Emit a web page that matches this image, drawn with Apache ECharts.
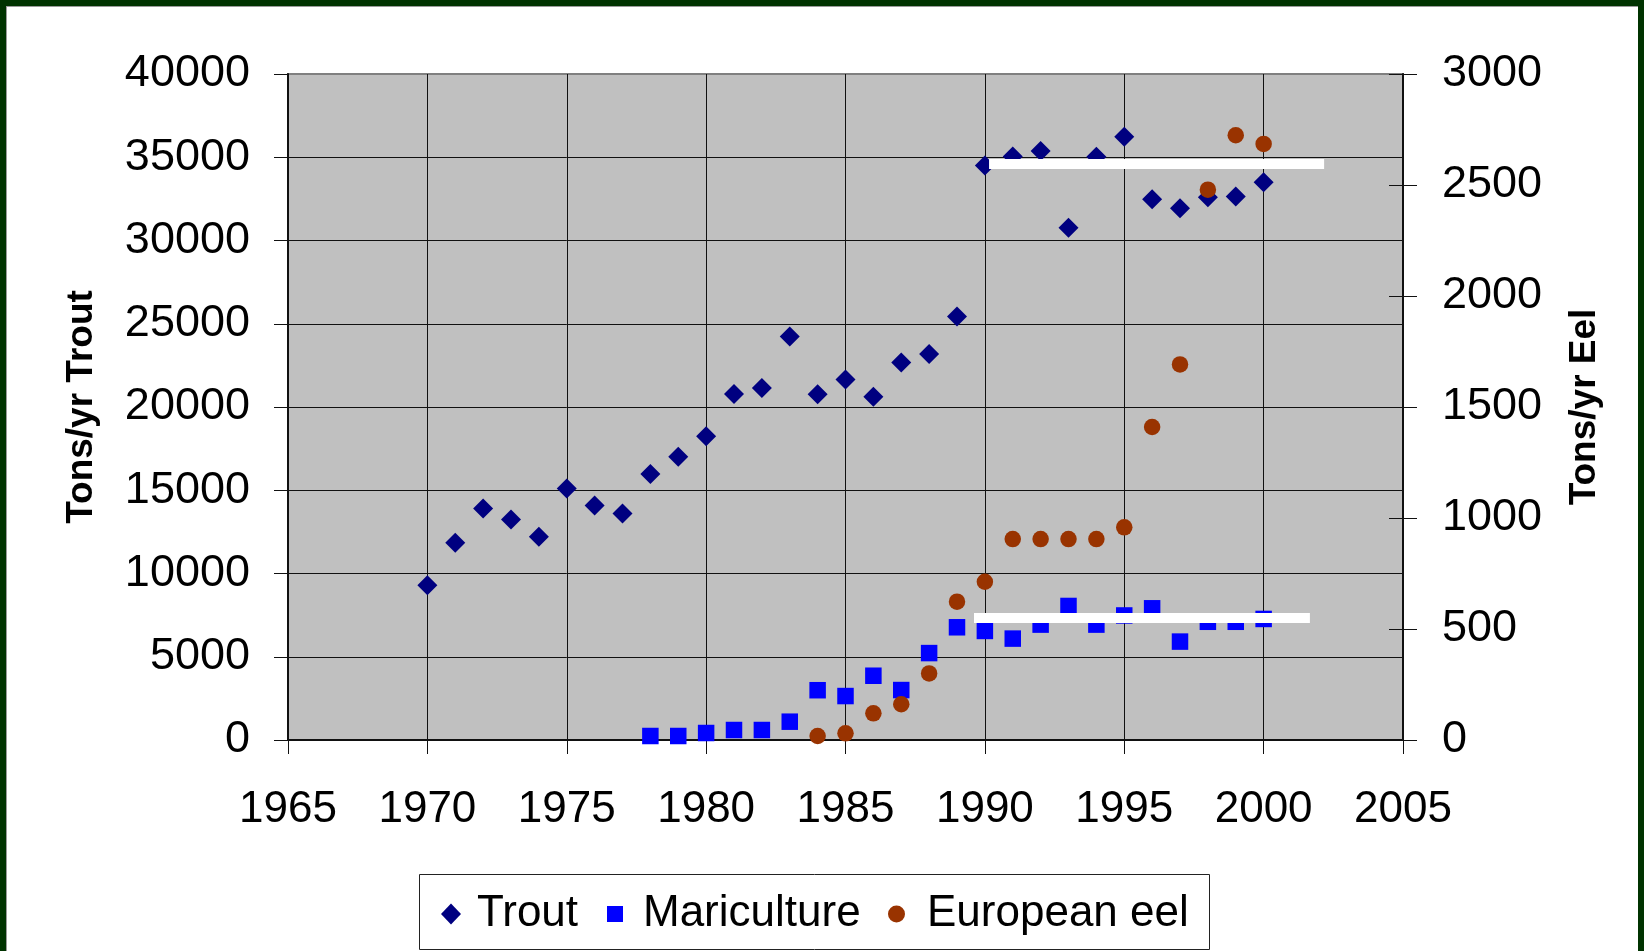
<!DOCTYPE html>
<html>
<head>
<meta charset="utf-8">
<script src="https://cdn.jsdelivr.net/npm/echarts@6/dist/echarts.min.js"></script>
<style>
  html, body { margin: 0; padding: 0; background: #ffffff; }
  #chart { position: absolute; left: 0; top: 0; width: 1644px; height: 951px; background: #ffffff; }
  #frame { position: absolute; left: 0; top: 0; width: 1644px; height: 951px; box-sizing: border-box;
           border-top: 6px solid #003300; border-left: 6px solid #003300; border-right: 6px solid #003300;
           box-shadow: inset 1px 1px 0 0 #9a9a9a; pointer-events: none; }
</style>
</head>
<body>
<div id="chart"></div>
<div id="frame"></div>
<script>
// ---------------- data ----------------
const troutYears = [1970,1971,1972,1973,1974,1975,1976,1977,1978,1979,1980,1981,1982,1983,1984,1985,1986,1987,1988,1989,1990,1991,1992,1993,1994,1995,1996,1997,1998,1999,2000];
const troutTons  = [9300,11850,13900,13250,12200,15100,14080,13600,15980,17010,18240,20780,21140,24230,20770,21650,20610,22680,23180,25430,34500,35050,35380,30760,35030,36230,32470,31930,32600,32650,33500];

const mariYears = [1978,1979,1980,1981,1982,1983,1984,1985,1986,1987,1988,1989,1990,1991,1992,1993,1994,1995,1996,1997,1998,1999,2000];
const mariTons  = [240,240,420,600,600,1100,2990,2640,3860,3000,5220,6770,6550,6090,6930,8050,6930,7480,7910,5910,7100,7100,7270];

const eelYears = [1984,1985,1986,1987,1988,1989,1990,1991,1992,1993,1994,1995,1996,1997,1998,1999,2000];
const eelTons  = [18,30,120,161,300,623,713,905,905,905,905,958,1410,1692,2479,2724,2685];

// white annotation bars (year range, left-axis level)
const topBarYears = [1990.15, 2002.17];
const topBarLevel = 34600;
const lowBarYears = [1989.61, 2001.66];
const lowBarLevel = 7330;

const xTicks = {min: 1965, max: 2005, interval: 5};
const yLeftTicks = {min: 0, max: 40000, interval: 5000};
const yRightTicks = {min: 0, max: 3000, interval: 500};

const seriesNames = ['Trout', 'Mariculture', 'European eel'];
const leftTitle = 'Tons/yr Trout';
const rightTitle = 'Tons/yr Eel';

// ---------------- chart ----------------
const FONT = '"Liberation Sans", Arial, sans-serif';
const pair = (xs, ys) => xs.map((x, i) => [x, ys[i]]);
const plain = v => String(v);

const chart = echarts.init(document.getElementById('chart'), null, {renderer: 'canvas'});

const legendText = (pad) => ({fontFamily: FONT, fontSize: 44, color: '#000', lineHeight: 50, padding: [0, 0, 0, pad]});

const option = {
  animation: false,
  backgroundColor: '#ffffff',
  grid: {
    left: 288, top: 74, width: 1115, height: 666,
    show: true, backgroundColor: '#C0C0C0', borderColor: '#808080', borderWidth: 2,
    containLabel: false
  },
  xAxis: {
    type: 'value',
    min: xTicks.min, max: xTicks.max, interval: xTicks.interval,
    axisLine: {show: true, onZero: false, lineStyle: {color: '#111', width: 2}},
    axisTick: {show: true, inside: false, length: 14, lineStyle: {color: '#111', width: 1}},
    axisLabel: {fontFamily: FONT, fontSize: 44, color: '#000', margin: 48, formatter: plain},
    splitLine: {show: true, lineStyle: {color: '#111', width: 1}}
  },
  yAxis: [
    {
      type: 'value', position: 'left',
      min: yLeftTicks.min, max: yLeftTicks.max, interval: yLeftTicks.interval,
      name: leftTitle, nameLocation: 'middle', nameRotate: 90, nameGap: 188,
      nameTextStyle: {fontFamily: FONT, fontSize: 37, fontWeight: 'bold', color: '#000'},
      axisLine: {show: true, lineStyle: {color: '#111', width: 2}},
      axisTick: {show: true, inside: false, length: 14, lineStyle: {color: '#111'}},
      axisLabel: {fontFamily: FONT, fontSize: 45, color: '#000', margin: 38, formatter: plain, padding: [12, 0, 0, 0]},
      splitLine: {show: true, showMaxLine: false, lineStyle: {color: '#111', width: 1}}
    },
    {
      type: 'value', position: 'right',
      min: yRightTicks.min, max: yRightTicks.max, interval: yRightTicks.interval,
      name: rightTitle, nameLocation: 'middle', nameRotate: 90, nameGap: 163,
      nameTextStyle: {fontFamily: FONT, fontSize: 37, fontWeight: 'bold', color: '#000'},
      axisLine: {show: true, lineStyle: {color: '#111', width: 2}},
      axisTick: {show: true, inside: false, length: 14, lineStyle: {color: '#111'}},
      axisLabel: {fontFamily: FONT, fontSize: 45, color: '#000', margin: 39, formatter: plain, padding: [12, 0, 0, 0]},
      splitLine: {show: false}
    },
    {
      type: 'value', position: 'right',
      min: yRightTicks.min, max: yRightTicks.max, interval: yRightTicks.interval,
      axisLine: {show: false},
      axisTick: {show: true, inside: true, length: 14, lineStyle: {color: '#111'}},
      axisLabel: {show: false},
      splitLine: {show: false}
    }
  ],
  legend: [
    {data: [seriesNames[0]], left: 441, top: 889, padding: 0, itemWidth: 20, itemHeight: 21, itemGap: 0,
     selectedMode: false, textStyle: legendText(11)},
    {data: [seriesNames[1]], left: 607, top: 889, padding: 0, itemWidth: 16, itemHeight: 16, itemGap: 0,
     selectedMode: false, textStyle: legendText(15)},
    {data: [seriesNames[2]], left: 888, top: 889, padding: 0, itemWidth: 17, itemHeight: 17, itemGap: 0,
     selectedMode: false, textStyle: legendText(17)}
  ],
  graphic: [
    {type: 'rect', left: 419, top: 874, z: 0, silent: true,
     shape: {width: 790, height: 75}, style: {fill: '#ffffff', stroke: '#222', lineWidth: 1}}
  ],
  series: [
    {name: seriesNames[0], type: 'scatter', yAxisIndex: 0, symbol: 'diamond', symbolSize: 20,
     itemStyle: {color: '#000080', opacity: 1}, data: pair(troutYears, troutTons), z: 3},
    {name: seriesNames[1], type: 'scatter', yAxisIndex: 0, symbol: 'rect', symbolSize: 16.5,
     itemStyle: {color: '#0000FF', opacity: 1}, data: pair(mariYears, mariTons), z: 3},
    {name: seriesNames[2], type: 'scatter', yAxisIndex: 1, symbol: 'circle', symbolSize: 16.5,
     itemStyle: {color: '#993300', opacity: 1}, data: pair(eelYears, eelTons), z: 3},
    {name: 'barTop', type: 'line', yAxisIndex: 0, symbol: 'none', silent: true, z: 6,
     lineStyle: {color: '#ffffff', width: 10, cap: 'butt'},
     data: topBarYears.map(x => [x, topBarLevel])},
    {name: 'barLow', type: 'line', yAxisIndex: 0, symbol: 'none', silent: true, z: 6,
     lineStyle: {color: '#ffffff', width: 10, cap: 'butt'},
     data: lowBarYears.map(x => [x, lowBarLevel])}
  ]
};
chart.setOption(option);
</script>
</body>
</html>
